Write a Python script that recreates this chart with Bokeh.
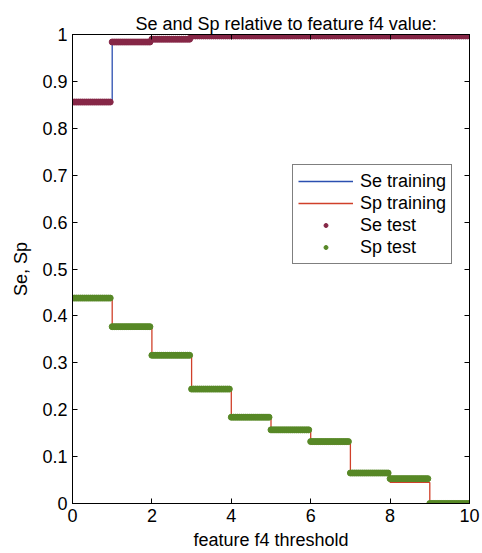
import numpy as np
from bokeh.plotting import figure
from bokeh.models import (LinearAxis, FixedTicker, Legend, LegendItem,
                          ColumnDataSource, Range1d, CustomJSTickFormatter)
from bokeh.embed import file_html
from bokeh.resources import INLINE

# ---------------- data ----------------
title_text = "Se and Sp relative to feature f4 value:"
x_label = "feature f4 threshold"
y_label = "Se, Sp"

# threshold step edges (0..10) and levels of each step
step_edges = [0, 1, 2, 3, 4, 5, 6, 7, 8, 9, 10]
se_training = [0.856, 0.984, 0.990, 0.997, 0.997, 0.997, 0.997, 0.997, 0.997, 0.997]
sp_training = [0.438, 0.377, 0.316, 0.244, 0.184, 0.157, 0.127, 0.060, 0.045, 0.0]
se_test = [0.856, 0.984, 0.990, 0.997, 0.997, 0.997, 0.997, 0.997, 0.997, 0.997]
sp_test = [0.438, 0.377, 0.316, 0.244, 0.184, 0.157, 0.132, 0.065, 0.053, 0.0]

# thresholds at which the test set was evaluated
test_thresholds = np.arange(0, 10.0001, 0.05)

x_ticks = [0, 2, 4, 6, 8, 10]
y_ticks = [0, 0.1, 0.2, 0.3, 0.4, 0.5, 0.6, 0.7, 0.8, 0.9, 1]
y_tick_labels = ["0", "0.1", "0.2", "0.3", "0.4", "0.5", "0.6", "0.7", "0.8", "0.9", "1"]

# ---------------- helpers ----------------
def level_at(levels, xs):
    idx = np.clip(np.floor(xs).astype(int), 0, len(levels) - 1)
    return np.array(levels)[idx]

FONT = "Liberation Sans"
FS = "18px"

p = figure(width=482, height=553, x_range=Range1d(0, 10), y_range=Range1d(0, 1),
           output_backend="svg", toolbar_location=None,
           min_border_left=72, min_border_right=13, min_border_top=34, min_border_bottom=50)
p.background_fill_color = "white"
p.border_fill_color = "white"
p.outline_line_color = "black"
p.xgrid.grid_line_color = None
p.ygrid.grid_line_color = None

p.title.text = title_text
p.title.text_font = FONT
p.title.text_font_size = FS
p.title.text_font_style = "normal"
p.title.text_color = "black"
p.title.align = "left"
p.title.offset = 63
p.title.standoff = 2

# training step lines
se_tr_y = list(se_training) + [se_training[-1]]
sp_tr_y = list(sp_training) + [sp_training[-1]]
r_se_tr = p.step(x=step_edges, y=se_tr_y, mode="after", line_color="#2b4fb0", line_width=1.3)
r_sp_tr = p.step(x=step_edges, y=sp_tr_y, mode="after", line_color="#d0402a", line_width=1.3)

# test points
src = ColumnDataSource(dict(x=test_thresholds,
                            se=level_at(se_test, test_thresholds),
                            sp=level_at(sp_test, test_thresholds)))
SE_COL = "#862747"
SP_COL = "#578826"
r_se_te = p.scatter("x", "se", source=src, size=6, fill_color=SE_COL, line_color=SE_COL)
r_sp_te = p.scatter("x", "sp", source=src, size=6, fill_color=SP_COL, line_color=SP_COL)

legend = Legend(items=[LegendItem(label="Se training", renderers=[r_se_tr]),
                       LegendItem(label="Sp training", renderers=[r_sp_tr]),
                       LegendItem(label="Se test", renderers=[r_se_te], index=0),
                       LegendItem(label="Sp test", renderers=[r_sp_te], index=0)],
                location=(220, 239))
legend.label_text_font = FONT
legend.label_text_font_size = FS
legend.label_text_color = "black"
legend.glyph_width = 55
legend.glyph_height = 10
legend.label_height = 22
legend.label_standoff = 7
legend.spacing = 0
legend.padding = 5
legend.margin = 0
legend.border_line_color = "black"
legend.border_line_width = 1
legend.background_fill_alpha = 1
p.add_layout(legend, "center")

# axes
def style_axis(ax, ticks, show_labels):
    ax.ticker = FixedTicker(ticks=ticks)
    ax.major_tick_in = 5
    ax.major_tick_out = 0
    ax.minor_tick_in = 0
    ax.minor_tick_out = 0
    ax.axis_line_color = "black"
    ax.major_tick_line_color = "black"
    ax.major_label_text_font = FONT
    ax.major_label_text_color = "black"
    ax.major_label_text_font_size = FS
    ax.axis_label_text_font = FONT
    ax.axis_label_text_font_size = FS
    ax.axis_label_text_font_style = "normal"
    ax.axis_label_text_color = "black"
    if not show_labels:
        ax.formatter = CustomJSTickFormatter(code="return ''")
        ax.major_label_standoff = 0

xa = p.xaxis[0]
ya = p.yaxis[0]
style_axis(xa, x_ticks, True)
style_axis(ya, y_ticks, True)
xa.axis_label = x_label
ya.axis_label = y_label
xa.major_label_standoff = 5
ya.major_label_standoff = 5
xa.axis_label_standoff = 5
ya.axis_label_standoff = 8
ya.major_label_overrides = {t: l for t, l in zip(y_ticks, y_tick_labels)}

ra = LinearAxis()
style_axis(ra, y_ticks, False)
p.add_layout(ra, "right")
ta = LinearAxis()
style_axis(ta, x_ticks, False)
p.add_layout(ta, "above")

open("out.html", "w").write(file_html(p, INLINE))
